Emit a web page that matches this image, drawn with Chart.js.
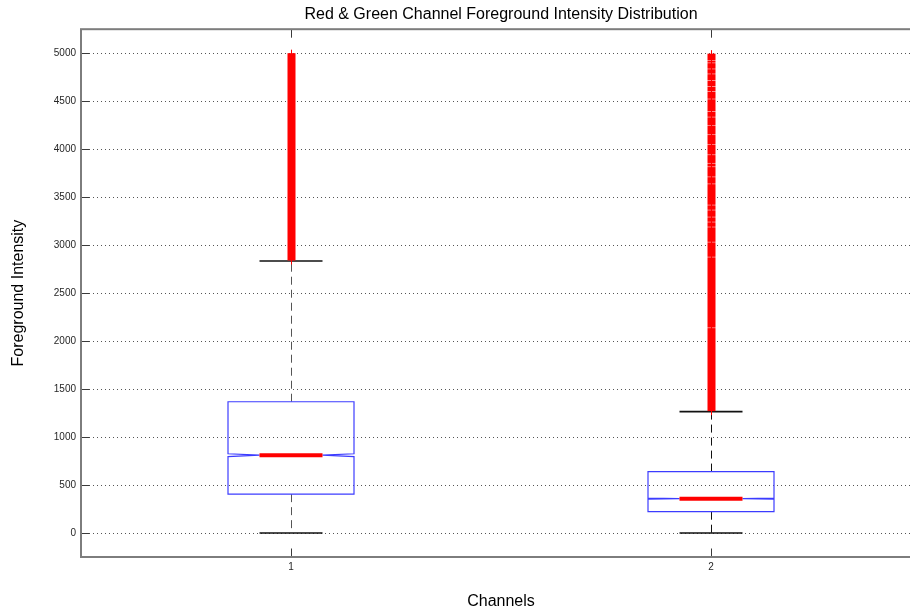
<!DOCTYPE html>
<html>
<head>
<meta charset="utf-8">
<title>Foreground Intensity Boxplot</title>
<script src="https://cdn.jsdelivr.net/npm/chart.js@4.4.1/dist/chart.umd.min.js"></script>
<style>
  html, body { margin: 0; padding: 0; background: #fff; overflow: hidden; }
  #wrap { position: absolute; left: 0; top: 0; width: 924px; height: 613px; }
</style>
</head>
<body>
<div id="wrap"><canvas id="boxChart"></canvas></div>
<script>
// channel positions on the x axis and their labels
const positions = [1, 2];
const channels = ['1', '2'];

// box statistics per channel (red, green)
const lowerWhisker = [0, 0];
const q1 = [405, 222];
const medians = [811, 358];
const q3 = [1368, 640];
const upperWhisker = [2834, 1265];
const notchLow = [796, 352];
const notchHigh = [826, 364];

// outliers come in dense runs of '+' markers: [from, to]
const redOutlierRuns = [[2840, 4995]];
const greenOutlierRuns = [
    [1270, 2130], [2140, 2868], [2878, 3024], [3034, 3181], [3191, 3233],
    [3243, 3285], [3295, 3358], [3368, 3410], [3420, 3630], [3640, 3703],
    [3713, 3808], [3818, 3846], [3856, 3933], [3943, 4038], [4048, 4142],
    [4152, 4236], [4246, 4327], [4337, 4385], [4395, 4515], [4525, 4594],
    [4604, 4646], [4656, 4709], [4719, 4776], [4786, 4828], [4838, 4891],
    [4901, 4919], [4929, 4990]
];
const outlierRuns = [redOutlierRuns, greenOutlierRuns];

const yTicks = [0, 500, 1000, 1500, 2000, 2500, 3000, 3500, 4000, 4500, 5000];

const BOX_HALF = 0.15;
const NOTCH_HALF = 0.075;
const MARK_HALF = 4;
const TICK_LEN = 8.5;

Chart.defaults.font.family = "'Liberation Sans', Arial, Helvetica, sans-serif";

function seg(ctx, x1, y1, x2, y2) {
    ctx.beginPath();
    ctx.moveTo(x1, y1);
    ctx.lineTo(x2, y2);
    ctx.stroke();
}

const boxPlot = {
    id: 'boxPlot',
    afterDatasetsDraw(chart) {
        const { ctx, chartArea: area, scales: { x, y } } = chart;
        const py = v => y.getPixelForValue(v);

        ctx.save();
        ctx.beginPath();
        ctx.rect(area.left, area.top, area.right - area.left, area.bottom - area.top);
        ctx.clip();

        positions.forEach((pos, i) => {
            const cx = Math.round(x.getPixelForValue(pos)) + 0.5;
            const bl = x.getPixelForValue(pos - BOX_HALF), br = x.getPixelForValue(pos + BOX_HALF);
            const nl = x.getPixelForValue(pos - NOTCH_HALF), nr = x.getPixelForValue(pos + NOTCH_HALF);

            // dashed whiskers
            ctx.strokeStyle = i === 0 ? '#555' : '#111';
            ctx.lineWidth = 1;
            ctx.setLineDash([8, 5]);
            seg(ctx, cx, py(q3[i]), cx, py(upperWhisker[i]));
            seg(ctx, cx, py(q1[i]), cx, py(lowerWhisker[i]));
            ctx.setLineDash([]);

            // whisker caps
            ctx.lineWidth = 1.6;
            ctx.strokeStyle = '#111';
            seg(ctx, nl, py(upperWhisker[i]), nr, py(upperWhisker[i]));
            seg(ctx, nl, py(lowerWhisker[i]), nr, py(lowerWhisker[i]));

            // notched box
            ctx.strokeStyle = 'rgb(60,60,255)';
            ctx.lineWidth = 1.2;
            ctx.beginPath();
            ctx.moveTo(bl, py(q1[i]));
            ctx.lineTo(bl, py(notchLow[i]));
            ctx.lineTo(nl, py(medians[i]));
            ctx.lineTo(bl, py(notchHigh[i]));
            ctx.lineTo(bl, py(q3[i]));
            ctx.lineTo(br, py(q3[i]));
            ctx.lineTo(br, py(notchHigh[i]));
            ctx.lineTo(nr, py(medians[i]));
            ctx.lineTo(br, py(notchLow[i]));
            ctx.lineTo(br, py(q1[i]));
            ctx.closePath();
            ctx.stroke();

            // median
            ctx.strokeStyle = '#ff0000';
            ctx.lineWidth = 4;
            seg(ctx, nl, py(medians[i]), nr, py(medians[i]));

            // outliers
            const runs = outlierRuns[i];
            ctx.fillStyle = '#ff0000';
            runs.forEach(([lo, hi]) => {
                const top = py(hi), bot = py(lo);
                ctx.fillRect(cx - MARK_HALF, top - 0.5, MARK_HALF * 2, bot - top + 0.5);
            });
            const top = py(runs[runs.length - 1][1]), bot = py(runs[0][0]);
            ctx.fillRect(cx - 0.5, top - MARK_HALF, 1, bot - top + MARK_HALF * 2);
        });
        ctx.restore();

        // axes box with inward ticks
        ctx.save();
        ctx.strokeStyle = '#3a3a3a';
        ctx.lineWidth = 1;
        y.ticks.forEach(t => {
            const ty = Math.round(py(t.value)) + 0.5;
            seg(ctx, area.left, ty, area.left + TICK_LEN, ty);
            seg(ctx, area.right, ty, area.right - TICK_LEN, ty);
        });
        x.ticks.forEach(t => {
            const tx = Math.round(x.getPixelForValue(t.value)) + 0.5;
            seg(ctx, tx, area.top, tx, area.top + TICK_LEN);
            seg(ctx, tx, area.bottom, tx, area.bottom - TICK_LEN);
        });
        ctx.strokeStyle = '#7d7d7d';
        ctx.lineWidth = 2;
        ctx.strokeRect(area.left, area.top, area.right - area.left, area.bottom - area.top);
        ctx.restore();
    }
};

new Chart(document.getElementById('boxChart'), {
    type: 'scatter',
    data: { datasets: [] },
    options: {
        responsive: true, maintainAspectRatio: false, animation: false,
        layout: { padding: { left: 0, right: 3, top: 0, bottom: 0 } },
        plugins: {
            legend: { display: false }, tooltip: { enabled: false },
            title: {
                display: true, fullSize: false, color: '#000',
                text: 'Red & Green Channel Foreground Intensity Distribution',
                font: { size: 16, weight: 'normal' }, padding: { top: 5, bottom: 5 }
            }
        },
        scales: {
            x: {
                type: 'linear', min: 0.5, max: 2.5,
                afterBuildTicks: s => { s.ticks = positions.map(v => ({ value: v })); },
                afterFit: s => { s.height = 56; },
                ticks: { color: '#262626', font: { size: 10 }, padding: -4, maxRotation: 0, autoSkip: false,
                    callback: (v, i) => channels[i] },
                grid: { display: false },
                border: { display: false },
                title: { display: true, text: 'Channels', color: '#000', font: { size: 16 }, padding: { top: 0, bottom: 1.5 } }
            },
            y: {
                type: 'linear', min: -250, max: 5250,
                afterBuildTicks: s => { s.ticks = yTicks.map(v => ({ value: v })); },
                afterFit: s => { s.width = 81; },
                ticks: { color: '#262626', font: { size: 10 }, padding: 5, callback: v => String(v) },
                grid: { color: '#555', lineWidth: 1, drawTicks: false },
                border: { display: false, dash: [1, 3] },
                title: { display: true, text: 'Foreground Intensity', color: '#000', font: { size: 16 }, padding: { top: 9, bottom: 0 } }
            }
        }
    },
    plugins: [boxPlot]
});
</script>
</body>
</html>
